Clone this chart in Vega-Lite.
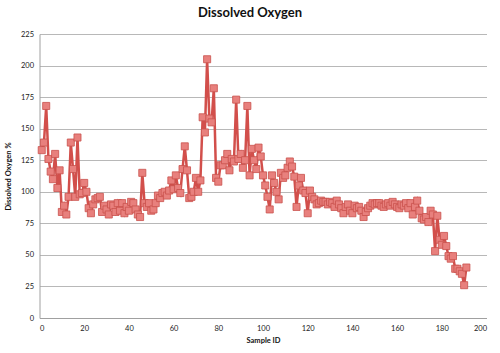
{
  "$schema": "https://vega.github.io/schema/vega-lite/v6.json",
  "autosize": "none",
  "width": 447,
  "height": 284,
  "padding": {"left": 39.5, "top": 34, "right": 13.5, "bottom": 35},
  "background": "white",
  "title": {"text": "Dissolved Oxygen", "font": "Lato", "fontSize": 13, "fontWeight": "bold", "color": "#111", "anchor": "middle", "dx": -13, "offset": 10},
  "data": {"values": [
    {"id":1,"v":133},{"id":2,"v":139},{"id":3,"v":168},{"id":4,"v":126},{"id":5,"v":116},
    {"id":6,"v":110},{"id":7,"v":130},{"id":8,"v":103},{"id":9,"v":117},{"id":10,"v":84},
    {"id":11,"v":89},{"id":12,"v":82},{"id":13,"v":96},{"id":14,"v":139},{"id":15,"v":118},
    {"id":16,"v":96},{"id":17,"v":143},{"id":18,"v":98},{"id":19,"v":99},{"id":20,"v":107},
    {"id":21,"v":100},{"id":22,"v":87},{"id":23,"v":83},{"id":24,"v":90},{"id":25,"v":94},
    {"id":26,"v":95},{"id":27,"v":96},{"id":28,"v":84},{"id":29,"v":89},{"id":30,"v":86},
    {"id":31,"v":82},{"id":32,"v":90},{"id":33,"v":89},{"id":34,"v":84},{"id":35,"v":91},
    {"id":36,"v":85},{"id":37,"v":91},{"id":38,"v":83},{"id":39,"v":88},{"id":40,"v":85},
    {"id":41,"v":92},{"id":42,"v":91},{"id":43,"v":86},{"id":44,"v":82},{"id":45,"v":80},
    {"id":46,"v":115},{"id":47,"v":91},{"id":48,"v":88},{"id":49,"v":91},{"id":50,"v":85},
    {"id":51,"v":86},{"id":52,"v":91},{"id":53,"v":97},{"id":54,"v":95},{"id":55,"v":99},
    {"id":56,"v":100},{"id":57,"v":97},{"id":58,"v":101},{"id":59,"v":109},{"id":60,"v":102},
    {"id":61,"v":113},{"id":62,"v":103},{"id":63,"v":99},{"id":64,"v":118},{"id":65,"v":136},
    {"id":66,"v":117},{"id":67,"v":95},{"id":68,"v":96},{"id":69,"v":100},{"id":70,"v":111},
    {"id":71,"v":100},{"id":72,"v":109},{"id":73,"v":159},{"id":74,"v":147},{"id":75,"v":205},
    {"id":76,"v":158},{"id":77,"v":155},{"id":78,"v":182},{"id":79,"v":111},{"id":80,"v":108},
    {"id":81,"v":121},{"id":82,"v":121},{"id":83,"v":125},{"id":84,"v":130},{"id":85,"v":117},
    {"id":86,"v":126},{"id":87,"v":124},{"id":88,"v":173},{"id":89,"v":126},{"id":90,"v":130},
    {"id":91,"v":119},{"id":92,"v":125},{"id":93,"v":168},{"id":94,"v":113},{"id":95,"v":134},
    {"id":96,"v":125},{"id":97,"v":118},{"id":98,"v":135},{"id":99,"v":128},{"id":100,"v":113},
    {"id":101,"v":105},{"id":102,"v":96},{"id":103,"v":86},{"id":104,"v":113},{"id":105,"v":107},
    {"id":106,"v":100},{"id":107,"v":94},{"id":108,"v":115},{"id":109,"v":111},{"id":110,"v":113},
    {"id":111,"v":119},{"id":112,"v":124},{"id":113,"v":120},{"id":114,"v":112},{"id":115,"v":88},
    {"id":116,"v":105},{"id":117,"v":111},{"id":118,"v":101},{"id":119,"v":99},{"id":120,"v":83},
    {"id":121,"v":101},{"id":122,"v":96},{"id":123,"v":94},{"id":124,"v":90},{"id":125,"v":91},
    {"id":126,"v":93},{"id":127,"v":92},{"id":128,"v":92},{"id":129,"v":90},{"id":130,"v":92},
    {"id":131,"v":91},{"id":132,"v":88},{"id":133,"v":93},{"id":134,"v":90},{"id":135,"v":87},
    {"id":136,"v":83},{"id":137,"v":88},{"id":138,"v":90},{"id":139,"v":85},{"id":140,"v":83},
    {"id":141,"v":89},{"id":142,"v":87},{"id":143,"v":88},{"id":144,"v":85},{"id":145,"v":80},
    {"id":146,"v":84},{"id":147,"v":87},{"id":148,"v":89},{"id":149,"v":91},{"id":150,"v":90},
    {"id":151,"v":91},{"id":152,"v":91},{"id":153,"v":89},{"id":154,"v":88},{"id":155,"v":90},
    {"id":156,"v":91},{"id":157,"v":89},{"id":158,"v":92},{"id":159,"v":90},{"id":160,"v":88},
    {"id":161,"v":87},{"id":162,"v":90},{"id":163,"v":89},{"id":164,"v":91},{"id":165,"v":87},
    {"id":166,"v":91},{"id":167,"v":82},{"id":168,"v":88},{"id":169,"v":93},{"id":170,"v":85},
    {"id":171,"v":79},{"id":172,"v":78},{"id":173,"v":80},{"id":174,"v":76},{"id":175,"v":85},
    {"id":176,"v":82},{"id":177,"v":53},{"id":178,"v":81},{"id":179,"v":62},{"id":180,"v":58},
    {"id":181,"v":65},{"id":182,"v":57},{"id":183,"v":49},{"id":184,"v":47},{"id":185,"v":49},
    {"id":186,"v":39},{"id":187,"v":39},{"id":188,"v":37},{"id":189,"v":35},{"id":190,"v":26},
    {"id":191,"v":40}
  ]},
  "encoding": {
    "x": {"field": "id", "type": "quantitative", "title": "Sample ID",
      "scale": {"domain": [0, 200], "nice": false, "zero": false},
      "axis": {"values": [0,20,40,60,80,100,120,140,160,180,200], "grid": false, "ticks": false,
        "domainColor": "#a0a0a0", "labelFont": "Lato", "labelFontSize": 7.5, "labelColor": "#222",
        "labelPadding": 6, "titleFont": "Lato", "titleFontSize": 7.5, "titleFontWeight": "bold",
        "titleColor": "#111", "titlePadding": 5}},
    "y": {"field": "v", "type": "quantitative", "title": "Dissolved Oxygen %",
      "scale": {"domain": [0, 225], "nice": false},
      "axis": {"values": [0,25,50,75,100,125,150,175,200,225], "grid": true, "gridColor": "#b8b8b8",
        "gridWidth": 1, "ticks": false, "domainColor": "#a0a0a0", "labelFont": "Lato",
        "labelFontSize": 7.5, "labelColor": "#222", "labelPadding": 6, "titleFont": "Lato",
        "titleFontSize": 7.5, "titleFontWeight": "bold", "titleColor": "#111", "titlePadding": 8}}
  },
  "layer": [
    {"mark": {"type": "line", "color": "#d24f4b", "strokeWidth": 2.5}},
    {"mark": {"type": "point", "shape": "square", "filled": true, "size": 50, "fill": "#e8807d",
      "stroke": "#c9504c", "strokeWidth": 0.8, "opacity": 1}}
  ],
  "config": {"view": {"stroke": null}}
}
